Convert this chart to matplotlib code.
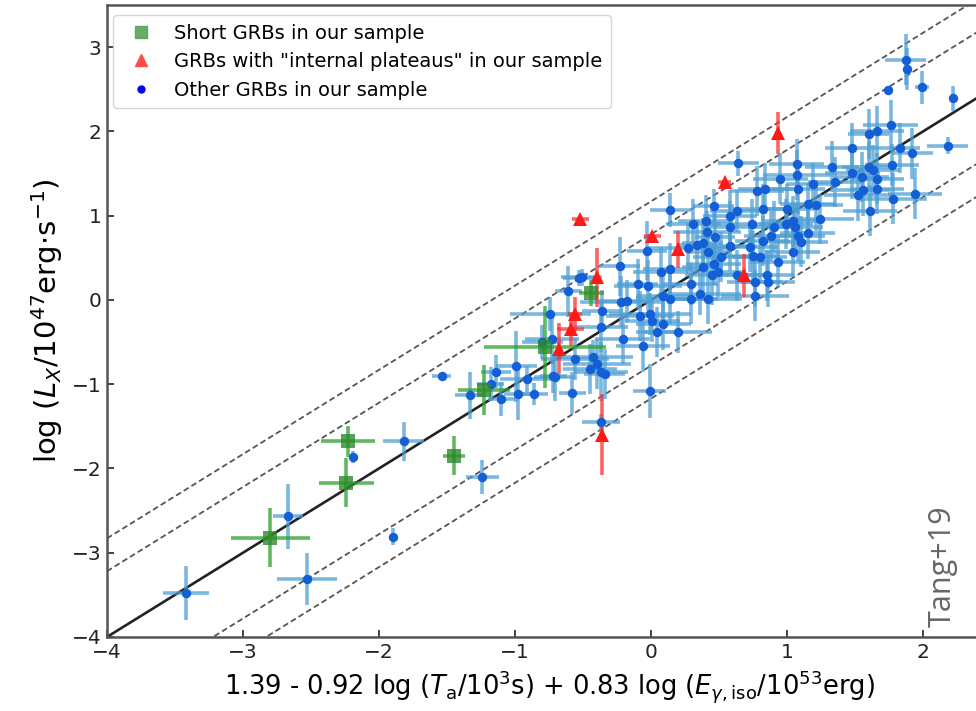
import matplotlib
matplotlib.use("Agg")
import matplotlib.pyplot as plt
import numpy as np
from matplotlib.lines import Line2D

# ---- Short GRBs ----
short_x = [-2.80, -2.24, -2.23, -1.45, -1.23, -0.78, -0.44]
short_y = [-2.82, -2.17, -1.68, -1.85, -1.07, -0.56, 0.08]
short_xerr = [0.29, 0.20, 0.20, 0.08, 0.19, 0.45, 0.09]
short_yerr = [0.35, 0.29, 0.18, 0.23, 0.30, 0.49, 0.15]

# ---- GRBs with internal plateaus ----
ip_x = [-0.52, 0.01, 0.20, 0.54, 0.93, 0.68, -0.40, -0.56, -0.59, -0.68, -0.36]
ip_y = [0.96, 0.76, 0.60, 1.40, 1.98, 0.29, 0.27, -0.17, -0.35, -0.58, -1.60]
ip_xerr = [0.06, 0.06, 0.02, 0.05, 0.02, 0.03, 0.02, 0.05, 0.10, 0.02, 0.02]
ip_yerr = [0.03, 0.03, 0.22, 0.03, 0.25, 0.25, 0.35, 0.20, 0.20, 0.30, 0.48]

# ---- Other GRBs ----
other_x = [-3.42, -2.67, -2.53, -2.19, -1.82, -1.90, -1.24, -1.33, -1.18, -1.54,
           -1.14, -1.10, -0.99, -0.98, -0.91, -0.86, -0.80, -0.74, -0.73, -0.71,
           -0.61, -0.58, -0.56, -0.53, -0.72, -0.43, -0.40, -0.37, -0.34, -0.37,
           -0.37, -0.36, -0.23, -0.22, -0.21, -0.18, -0.10, -0.08, -0.06, -0.03,
           -0.02, -0.01, -0.01, -0.45, 0.01, 0.04, 0.07, 0.09, 0.14, 0.14,
           0.14, 0.20, 0.27, 0.29, 0.31, 0.36, 0.38, 0.40, 0.41, 0.42,
           0.45, 0.46, 0.47, 0.46, 0.29, 0.38, 0.49, 0.42, 0.51, 0.58,
           0.58, 0.63, 0.64, 0.63, 0.58, 0.74, 0.75, 0.76, 0.73, 0.78,
           0.84, 0.95, 1.07, 1.07, 1.08, 0.82, 1.00, 1.19, 1.21, 1.24,
           0.99, 1.04, 1.06, 1.08, 1.15, 0.88, 0.82, 0.80, 0.93, 1.04,
           0.76, 0.86, 0.90, 1.33, 1.35, 1.48, 1.60, 1.66, 1.76, 1.60,
           1.63, 1.55, 1.56, 1.61, 1.52, 1.66, 1.66, 1.77, 1.78, 1.83,
           1.92, 1.94, 2.18, 2.22, 1.74, 1.87, 1.88, 1.99, 1.48, 1.10,
           0.85, 1.15, -0.51, 0.34, 0.09]
other_y = [-3.48, -2.57, -3.31, -1.86, -1.68, -2.81, -2.10, -1.13, -1.00, -0.90,
           -0.85, -1.18, -0.79, -1.12, -0.94, -1.12, -0.50, -0.17, -0.46, -0.92,
           0.10, -1.10, -0.70, 0.26, -0.90, -0.68, -0.76, -0.85, -0.88, -1.45,
           -0.32, -0.13, 0.40, -0.02, -0.46, -0.01, 0.19, -0.19, -0.55, 0.58,
           0.17, -0.17, -1.08, -0.82, -0.25, -0.38, 0.33, -0.29, 1.07, 0.01,
           0.37, -0.38, 0.61, 0.01, 0.90, 0.07, 0.67, 0.94, 0.81, 0.57,
           0.29, 0.43, 0.75, 1.11, 0.19, 0.39, 0.33, 0.01, 0.51, 1.00,
           0.64, 0.29, 1.62, 1.05, 0.87, 0.90, 0.52, 0.21, 0.63, 1.29,
           1.32, 1.44, 1.61, 1.48, 1.32, 1.08, 1.08, 1.38, 1.12, 0.96,
           0.90, 0.93, 0.87, 0.76, 0.79, 0.76, 0.70, 0.51, 0.45, 0.57,
           0.05, 0.21, 0.87, 1.58, 1.40, 1.80, 1.97, 2.00, 2.07, 1.58,
           1.54, 1.46, 1.30, 1.06, 1.24, 1.32, 1.44, 1.60, 1.20, 1.80,
           1.74, 1.26, 1.83, 2.39, 2.49, 2.85, 2.74, 2.52, 1.50, 0.69,
           0.29, 1.14, 0.27, 0.65, 0.05]
other_xerr = [0.17, 0.11, 0.22, 0.00, 0.15, 0.00, 0.12, 0.11, 0.10, 0.07,
              0.11, 0.10, 0.15, 0.10, 0.20, 0.10, 0.15, 0.30, 0.20, 0.15,
              0.10, 0.10, 0.25, 0.12, 0.10, 0.30, 0.25, 0.20, 0.15, 0.14,
              0.20, 0.15, 0.15, 0.30, 0.20, 0.20, 0.15, 0.25, 0.20, 0.15,
              0.25, 0.30, 0.12, 0.20, 0.20, 0.15, 0.20, 0.20, 0.15, 0.25,
              0.20, 0.25, 0.30, 0.20, 0.20, 0.30, 0.15, 0.20, 0.25, 0.15,
              0.20, 0.20, 0.15, 0.15, 0.20, 0.15, 0.20, 0.25, 0.20, 0.20,
              0.20, 0.20, 0.15, 0.20, 0.20, 0.30, 0.20, 0.20, 0.20, 0.20,
              0.20, 0.20, 0.20, 0.25, 0.20, 0.25, 0.20, 0.20, 0.20, 0.25,
              0.20, 0.20, 0.20, 0.20, 0.20, 0.20, 0.20, 0.20, 0.20, 0.20,
              0.25, 0.20, 0.15, 0.20, 0.20, 0.20, 0.15, 0.20, 0.20, 0.20,
              0.20, 0.20, 0.20, 0.20, 0.25, 0.20, 0.20, 0.20, 0.25, 0.15,
              0.15, 0.20, 0.15, 0.00, 0.00, 0.15, 0.00, 0.05, 0.20, 0.20,
              0.20, 0.20, 0.15, 0.15, 0.20]
other_yerr = [0.32, 0.39, 0.31, 0.07, 0.23, 0.10, 0.20, 0.28, 0.20, 0.03,
              0.20, 0.20, 0.42, 0.31, 0.15, 0.13, 0.20, 0.20, 0.30, 0.28,
              0.30, 0.25, 0.25, 0.10, 0.20, 0.20, 0.30, 0.35, 0.30, 0.10,
              0.30, 0.25, 0.35, 0.30, 0.30, 0.25, 0.30, 0.30, 0.30, 0.35,
              0.30, 0.25, 0.32, 0.30, 0.25, 0.30, 0.30, 0.30, 0.20, 0.30,
              0.30, 0.25, 0.30, 0.30, 0.30, 0.25, 0.30, 0.30, 0.25, 0.30,
              0.35, 0.25, 0.30, 0.20, 0.25, 0.30, 0.30, 0.30, 0.30, 0.30,
              0.30, 0.30, 0.15, 0.25, 0.30, 0.30, 0.30, 0.30, 0.30, 0.30,
              0.30, 0.30, 0.30, 0.30, 0.30, 0.30, 0.30, 0.25, 0.30, 0.30,
              0.30, 0.30, 0.25, 0.30, 0.30, 0.30, 0.30, 0.30, 0.30, 0.30,
              0.30, 0.30, 0.30, 0.30, 0.30, 0.30, 0.30, 0.30, 0.30, 0.30,
              0.30, 0.30, 0.30, 0.30, 0.30, 0.30, 0.30, 0.25, 0.30, 0.30,
              0.30, 0.30, 0.10, 0.15, 0.00, 0.30, 0.25, 0.20, 0.30, 0.30,
              0.30, 0.25, 0.10, 0.30, 0.30]

# best-fit relation and scatter bands
band_offsets = [1.17, 0.78, -0.78, -1.17]

plt.rcParams['font.family'] = ['DejaVu Sans']
fig = plt.figure(figsize=(9.76, 7.11), dpi=100)
ax = fig.add_axes([0.1096, 0.1041, 0.906, 0.889])

xl = np.array([-4.0, 2.6])
ax.plot(xl, xl, color='#222222', lw=1.9, zorder=2)
for off in band_offsets:
    ax.plot(xl, xl + off, color='#555555', lw=1.3, ls=(0, (3.2, 1.8)), zorder=2)

ax.errorbar(other_x, other_y, xerr=other_xerr, yerr=other_yerr, fmt='none',
            ecolor='#4f9fd4', elinewidth=2.6, alpha=0.75, zorder=3)
ax.errorbar(short_x, short_y, xerr=short_xerr, yerr=short_yerr, fmt='none',
            ecolor='#2ca02c', elinewidth=2.6, alpha=0.75, zorder=3)
ax.errorbar(ip_x, ip_y, xerr=ip_xerr, yerr=ip_yerr, fmt='none',
            ecolor='#ff3030', elinewidth=2.6, alpha=0.75, zorder=3)

ax.plot(other_x, other_y, 'o', color='#155fd6', ms=6.8, mew=0, zorder=4)
ax.plot(short_x, short_y, 's', color='#2e8b2e', ms=10, mew=0, alpha=0.8, zorder=5)
ax.plot(ip_x, ip_y, '^', color='#ff1a1a', ms=10, mew=0, zorder=5)

handles = [
    Line2D([], [], ls='none', marker='s', color='#4f9f4f', ms=9, alpha=0.85,
           label='Short GRBs in our sample'),
    Line2D([], [], ls='none', marker='^', color='#ff4d4d', ms=9,
           label='GRBs with "internal plateaus" in our sample'),
    Line2D([], [], ls='none', marker='o', color='#0000ff', ms=5,
           label='Other GRBs in our sample'),
]
leg = ax.legend(handles=handles, loc='upper left', fontsize=14,
                frameon=True, borderpad=0.45, labelspacing=0.48,
                handletextpad=0.7, borderaxespad=0.3,
                bbox_to_anchor=(0.0, 0.993))
leg.get_frame().set_edgecolor('#cccccc')

ax.set_xlim(-4, 2.5)
ax.set_ylim(-4, 3.5)
ax.set_xticks([-4, -3, -2, -1, 0, 1, 2])
ax.set_yticks([-4, -3, -2, -1, 0, 1, 2, 3])
ax.tick_params(direction='in', length=5, width=1.2, labelsize=14.5,
               colors='#222222', pad=4)
for s in ax.spines.values():
    s.set_linewidth(1.8)
    s.set_color('#555555')

ax.set_xlabel(r'1.39 - 0.92 log ($T_{\rm a}$/10$^{3}$s) + 0.83 log ($E_{\gamma,\rm iso}$/10$^{53}$erg)',
              fontsize=18.5, labelpad=5)
ax.set_ylabel(r'log ($L_{X}$/10$^{47}$erg$\cdot$s$^{-1}$)', fontsize=21, labelpad=5)

fig.text(0.966, 0.204, 'Tang+19', rotation=90, fontsize=22, color='#666666',
         ha='center', va='center', family='Open Sans')

fig.savefig('out.png', dpi=100)
